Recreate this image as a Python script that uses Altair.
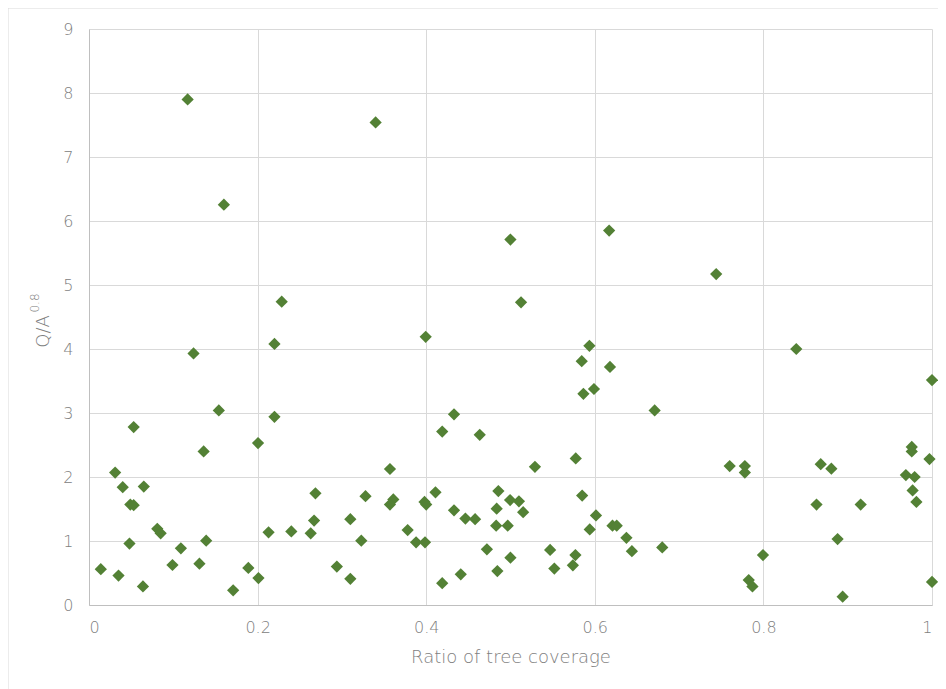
import altair as alt
import pandas as pd

# Ratio of tree coverage
xs = [0.014, 0.031, 0.035, 0.040, 0.053, 0.049, 0.053, 0.048, 0.065, 0.064,
      0.081, 0.085, 0.099, 0.109, 0.124, 0.131, 0.136, 0.139, 0.154, 0.171,
      0.189, 0.2005, 0.201, 0.213, 0.220, 0.220, 0.2286, 0.240, 0.263, 0.2686,
      0.267, 0.117, 0.160, 0.340, 0.4999, 0.617, 0.5125, 0.744,
      0.294, 0.310, 0.310, 0.323, 0.328, 0.357, 0.361, 0.357, 0.378, 0.388,
      0.3986, 0.398, 0.400, 0.3994, 0.411, 0.419, 0.419, 0.433, 0.433, 0.441,
      0.4465, 0.458, 0.4635, 0.472, 0.483, 0.4836, 0.4856, 0.4844, 0.4967, 0.4999,
      0.4995, 0.510, 0.515, 0.529, 0.547, 0.552, 0.574, 0.577, 0.5774, 0.5845,
      0.585, 0.5865, 0.5936, 0.594, 0.599, 0.6014, 0.618, 0.621, 0.626, 0.6375,
      0.644, 0.671, 0.680, 0.760, 0.778, 0.778, 0.7826, 0.787, 0.7995, 0.839,
      0.863, 0.868, 0.8806, 0.888, 0.894, 0.9154, 0.969, 0.976, 0.976, 0.9794,
      0.977, 0.9815, 0.997, 1.0, 1.0]

# Q/A^0.8
ys = [0.56, 2.07, 0.46, 1.84, 2.78, 1.57, 1.56, 0.96, 1.85, 0.29,
      1.19, 1.12, 0.625, 0.885, 3.93, 0.645, 2.40, 1.005, 3.04, 0.23,
      0.58, 2.53, 0.42, 1.135, 4.08, 2.94, 4.74, 1.15, 1.12, 1.745,
      1.32, 7.90, 6.255, 7.54, 5.71, 5.85, 4.73, 5.17,
      0.60, 0.41, 1.34, 1.005, 1.70, 2.125, 1.65, 1.57, 1.17, 0.98,
      0.98, 1.61, 1.57, 4.19, 1.76, 2.71, 0.34, 2.98, 1.48, 0.48,
      1.35, 1.34, 2.66, 0.87, 1.24, 1.505, 1.78, 0.53, 1.24, 0.74,
      1.64, 1.62, 1.45, 2.16, 0.86, 0.57, 0.62, 0.78, 2.29, 3.81,
      1.71, 3.30, 4.05, 1.18, 3.375, 1.40, 3.72, 1.24, 1.24, 1.05,
      0.84, 3.04, 0.90, 2.17, 2.17, 2.07, 0.39, 0.29, 0.78, 4.00,
      1.57, 2.20, 2.13, 1.03, 0.13, 1.57, 2.03, 2.47, 2.40, 2.00,
      1.79, 1.61, 2.28, 3.515, 0.36]

x_ticks = [0, 0.2, 0.4, 0.6, 0.8, 1.0]
y_ticks = [0, 1, 2, 3, 4, 5, 6, 7, 8, 9]
y_title = "Q/A"
y_title_exp = "0.8"

df = pd.DataFrame({"x": xs, "y": ys})

FONT = "DejaVu Sans"
LABEL_COLOR = "#808080"
GRID = "#d9d9d9"

points = alt.Chart(df).mark_point(
    shape="diamond", filled=True, size=150, color="#538135", opacity=1
).encode(
    x=alt.X("x:Q", scale=alt.Scale(domain=[0, 1], nice=False, zero=True),
            axis=alt.Axis(values=x_ticks, format=".1~f", title="Ratio of tree coverage",
                          titleY=52, titleBaseline="middle", labelPadding=14,
                          ticks=False)),
    y=alt.Y("y:Q", scale=alt.Scale(domain=[0, 9], nice=False),
            axis=alt.Axis(values=y_ticks, title=y_title, titleX=-46, titleY=302,
                          titleAngle=-90, titleBaseline="middle", labelPadding=16,
                          ticks=False)),
)

exp_text = alt.Chart(alt.Data(values=[{"t": y_title_exp}])).mark_text(
    angle=270, fontSize=12, font=FONT, fontWeight=300, color=LABEL_COLOR,
    align="center", baseline="middle"
).encode(x=alt.value(-54), y=alt.value(274), text="t:N")

border = alt.Chart(alt.Data(values=[{}]))
left_line = border.mark_rule(color="#d9d9d9", strokeWidth=1).encode(
    x=alt.value(-81), y=alt.value(-21), y2=alt.value(700))
top_line = border.mark_rule(color="#d9d9d9", strokeWidth=1).encode(
    x=alt.value(-81), x2=alt.value(900), y=alt.value(-21))

chart = alt.layer(left_line, top_line, points, exp_text).properties(
    width=843, height=576,
    background="white",
    autosize=alt.AutoSizeParams(type="none"),
    padding={"left": 81, "top": 21, "right": 6, "bottom": 84},
).configure_view(strokeWidth=0).configure_axis(
    labelFont=FONT, titleFont=FONT, labelFontSize=16, titleFontSize=18,
    labelFontWeight=300, titleFontWeight=300,
    labelColor=LABEL_COLOR, titleColor=LABEL_COLOR,
    gridColor=GRID, gridWidth=1, domainColor="#bfbfbf", domainWidth=1,
)

chart.save("out.html", embed_options={"renderer": "svg", "actions": False})
